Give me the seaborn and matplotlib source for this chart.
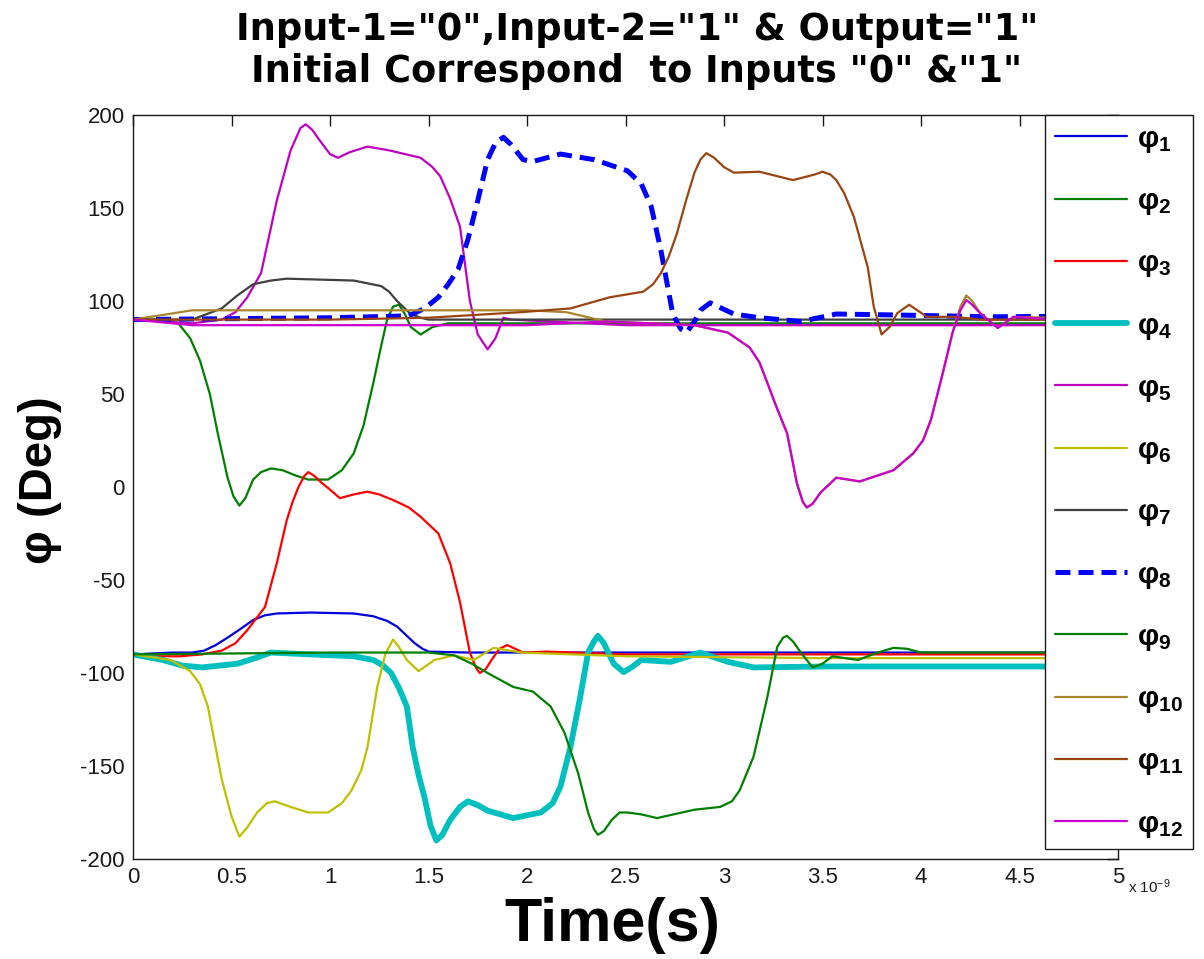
import numpy as np
import pandas as pd
import matplotlib
matplotlib.use("Agg")
import matplotlib.pyplot as plt
import seaborn as sns

# ------------------------
# Data (time in units of 1e-9 s)
# ------------------------
t1 = [0, 0.2, 0.30, 0.36, 0.42, 0.48, 0.55, 0.61, 0.67, 0.73, 0.9, 1.12, 1.22, 1.29, 1.34,
      1.39, 1.43, 1.47, 1.50, 1.7, 2.5, 3.5, 5]
phi1 = [-90, -89, -89, -88, -85, -81, -76, -71.5, -69, -68, -67.5, -68, -69.5, -72, -75,
        -80, -84, -87, -88.5, -89, -89, -89, -89]

t2 = [0, 0.15, 0.23, 0.29, 0.34, 0.39, 0.43, 0.48, 0.51, 0.54, 0.57, 0.61, 0.65, 0.70, 0.76,
      0.83, 0.89, 0.99, 1.06, 1.12, 1.17, 1.22, 1.26, 1.29, 1.32, 1.35, 1.38, 1.41, 1.46, 1.52,
      1.6, 2.0, 3.0, 4.0, 5]
phi2 = [90, 90, 88, 80, 68, 50, 29, 5, -5, -10, -6, 4, 8, 10, 9,
        6, 4, 4, 9, 18, 33, 56, 76, 90, 97, 98, 93, 86, 82, 86,
        88, 88, 88, 88, 88]

t3 = [0, 0.1, 0.24, 0.35, 0.45, 0.52, 0.58, 0.67, 0.73, 0.78, 0.81, 0.84, 0.87, 0.89, 0.92,
      0.96, 0.99, 1.05, 1.12, 1.19, 1.25, 1.32, 1.40, 1.46, 1.55, 1.61, 1.66, 1.71, 1.74, 1.76,
      1.79, 1.82, 1.86, 1.90, 1.94, 1.98, 2.10, 2.5, 3.0, 4.0, 5]
phi3 = [-90, -91, -91, -90, -88, -84, -77, -64.5, -41, -18, -8, 0, 6, 8, 6,
        2, -0.5, -6, -4, -2.5, -4, -7, -11, -16, -25, -41, -62, -89, -97, -100,
        -98, -93, -87, -85, -87, -89, -88.5, -90, -90, -90, -90]

t4 = [0, 0.15, 0.25, 0.35, 0.53, 0.62, 0.70, 0.9, 1.12, 1.22, 1.27, 1.31, 1.35, 1.39, 1.42,
      1.45, 1.48, 1.51, 1.54, 1.57, 1.61, 1.66, 1.70, 1.75, 1.80, 1.93, 2.07, 2.13, 2.17, 2.22,
      2.27, 2.31, 2.34, 2.36, 2.39, 2.44, 2.49, 2.53, 2.58, 2.73, 2.88, 3.02, 3.15, 3.52, 4.0, 5]
phi4 = [-90, -93, -96, -97, -95, -92, -89, -90, -91, -93, -96, -100, -108, -118, -140,
        -155, -167, -182, -190, -187, -179, -172, -169, -171, -174, -178, -175, -170, -161, -140,
        -113, -89, -83, -80, -84, -95, -99.5, -97, -93, -94, -89, -94, -97, -96.5, -96.5, -96.5]

t5 = [0, 0.3, 0.45, 0.52, 0.58, 0.65, 0.73, 0.80, 0.85, 0.877, 0.91, 0.95, 1.0, 1.04, 1.10,
      1.19, 1.30, 1.46, 1.52, 1.56, 1.61, 1.66, 1.71, 1.75, 1.80, 1.84, 1.88, 1.92, 2.5, 3.5, 5]
phi5 = [90, 88, 90, 94, 102, 115, 154, 181, 193, 195, 192, 186, 179, 177, 180,
        183, 181, 177, 172, 167, 155, 140, 100, 82, 74, 80, 91, 90, 87, 87, 87]

t6 = [0, 0.19, 0.29, 0.34, 0.38, 0.45, 0.50, 0.54, 0.58, 0.63, 0.68, 0.72, 0.80, 0.89, 0.99,
      1.06, 1.11, 1.16, 1.19, 1.24, 1.28, 1.32, 1.35, 1.39, 1.45, 1.53, 1.63, 1.73, 1.83, 1.97,
      2.5, 3.5, 5]
phi6 = [-90, -93, -99, -106, -118, -157, -177, -188, -183, -175, -170, -169, -172, -175, -175,
        -170, -163, -152, -140, -107.5, -90, -82, -86, -93, -99, -93, -90.5, -93, -86.5, -89,
        -91, -92, -92]

t7 = [0, 0.3, 0.45, 0.53, 0.61, 0.70, 0.78, 1.12, 1.26, 1.30, 1.34, 1.38, 1.41, 1.46, 1.5, 5]
phi7 = [90, 90, 96, 103, 109, 111, 112, 111, 108, 105, 100, 96, 93, 91, 90, 90]

t8 = [0, 1.0, 1.40, 1.48, 1.55, 1.60, 1.65, 1.70, 1.75, 1.80, 1.84, 1.88, 1.92, 1.98, 2.03,
      2.10, 2.17, 2.34, 2.51, 2.58, 2.63, 2.68, 2.71, 2.74, 2.78, 2.81, 2.85, 2.88, 2.93, 3.05,
      3.18, 3.39, 3.57, 3.86, 4.37, 5]
phi8 = [90, 91, 92, 96, 102, 109, 117, 133, 154, 176, 185, 188, 184, 176, 175,
        177, 179, 176, 170, 163, 151, 127, 110, 93, 85, 83, 89, 95, 99, 93,
        91, 89, 93, 92.5, 91.5, 92]

t9 = [0, 1.0, 1.5, 1.63, 1.72, 1.80, 1.93, 2.03, 2.12, 2.19, 2.26, 2.31, 2.34, 2.36, 2.39,
      2.43, 2.47, 2.51, 2.58, 2.66, 2.85, 2.98, 3.04, 3.08, 3.15, 3.22, 3.27, 3.30, 3.32, 3.35,
      3.39, 3.45, 3.50, 3.55, 3.68, 3.78, 3.86, 3.93, 4.00, 5]
phi9 = [-90, -89, -89, -90.5, -95, -100, -107.5, -110, -118, -132, -154, -175, -184, -187, -185,
        -179, -175, -175, -176, -178, -173.5, -172, -169, -163, -145, -113, -86, -81, -80, -83,
        -89, -97, -95, -91, -93, -89, -86.5, -87, -89, -89]

t10 = [0, 0.3, 1.0, 2.0, 2.2, 2.4, 2.85, 3.02, 3.13, 3.18, 3.22, 3.27, 3.32, 3.37, 3.40,
       3.42, 3.45, 3.49, 3.57, 3.69, 3.86, 3.96, 4.01, 4.05, 4.11, 4.16, 4.20, 4.23, 4.26, 4.30,
       4.39, 4.47, 5]
phi10 = [90, 95, 95, 95, 94, 89, 87, 83, 75, 67, 56, 42, 29, 2, -8,
         -11, -9, -3, 5, 3, 9, 18, 25, 36, 61, 83, 97, 103, 100, 93.5,
         85.5, 91.5, 90]

t11 = [0, 1.0, 1.5, 1.97, 2.22, 2.42, 2.59, 2.64, 2.68, 2.72, 2.76, 2.81, 2.85, 2.88, 2.91,
       2.95, 3.00, 3.05, 3.18, 3.35, 3.46, 3.50, 3.54, 3.57, 3.61, 3.66, 3.73, 3.76, 3.80, 3.84,
       3.88, 3.94, 4.03, 4.17, 4.3, 5]
phi11 = [90, 90, 91, 94, 96, 102, 105, 109, 115, 124, 136, 155, 169, 176, 179.5,
         177, 172, 169, 169.5, 165, 168, 169.5, 168, 165, 158, 145, 118, 97, 82, 86,
         93.5, 98, 91.5, 91.5, 90, 90]

t12 = [0, 0.3, 2.0, 2.2, 2.4, 2.85, 3.02, 3.13, 3.18, 3.22, 3.27, 3.32, 3.37, 3.40,
       3.42, 3.45, 3.49, 3.57, 3.69, 3.86, 3.96, 4.01, 4.05, 4.11, 4.16, 4.20, 4.23, 4.26, 4.30,
       4.39, 4.47, 5]
phi12 = [90, 87, 87, 88, 89, 87, 83, 75, 67, 56, 42, 29, 2, -8,
         -11, -9, -3, 5, 3, 9, 18, 25, 36, 61, 83, 95, 100.5, 98, 93.5,
         85.5, 91.5, 88]

labels = ["φ$_{%d}$" % i for i in range(1, 13)]
colors = ["#0000dd", "#007f00", "#ff0000", "#00bfbf", "#bf00bf", "#bfbf00",
          "#404040", "#0000ff", "#007f00", "#a8862e", "#994411", "#cc00cc"]
widths = [1.6, 1.6, 1.6, 4.2, 1.6, 1.6, 1.6, 3.6, 1.6, 1.6, 1.6, 1.6]

xticks = [0, 0.5, 1, 1.5, 2, 2.5, 3, 3.5, 4, 4.5, 5]
xtick_labels = ["0", "0.5", "1", "1.5", "2", "2.5", "3", "3.5", "4", "4.5", "5"]
yticks = [-200, -150, -100, -50, 0, 50, 100, 150, 200]

series = [(t1, phi1), (t2, phi2), (t3, phi3), (t4, phi4), (t5, phi5), (t6, phi6),
          (t7, phi7), (t8, phi8), (t9, phi9), (t10, phi10), (t11, phi11), (t12, phi12)]

# ------------------------
# Plot
# ------------------------
sns.set_style("white")
plt.rcParams['font.family'] = ['Liberation Sans Narrow', 'Liberation Sans', 'DejaVu Sans']
plt.rcParams['mathtext.default'] = 'regular'
plt.rcParams['axes.unicode_minus'] = False
plt.rcParams['text.color'] = 'black'

fig = plt.figure(figsize=(12.04, 9.59), dpi=100)
ax = fig.add_axes([133/1204, 100/959, 985/1204, 744/959])

for i, (t, v) in enumerate(series):
    df = pd.DataFrame({"t": t, "v": v})
    ls = (0, (3.0, 1.6)) if i == 7 else "-"
    sns.lineplot(data=df, x="t", y="v", ax=ax, color=colors[i], linewidth=widths[i],
                 linestyle=ls, label=labels[i], legend=False)

ax.set_xlim(0, 5)
ax.set_ylim(-200, 200)
ax.set_xticks(xticks)
ax.set_xticklabels(xtick_labels)
ax.set_yticks(yticks)
ax.tick_params(direction="in", length=8, width=1, top=True, right=True,
               labelsize=16, colors="#1a1a1a", pad=6)
for s in ax.spines.values():
    s.set_color("#1a1a1a")
    s.set_linewidth(1)
ax.set_xlabel("")
ax.set_ylabel("")

fig.text(637/1204, 1 - 30/959, 'Input-1="0",Input-2="1" & Output="1"', family="DejaVu Sans",
         fontsize=26.5, fontweight="bold", ha="center", va="center", color="black")
fig.text(637/1204, 1 - 72/959, 'Initial Correspond  to Inputs "0" &"1"', family="DejaVu Sans",
         fontsize=26.5, fontweight="bold", ha="center", va="center", color="black")
fig.text(612/1204, 1 - 926/959, "Time(s)", family="Liberation Sans", fontsize=44,
         fontweight="bold", ha="center", va="center", color="black")
fig.text(40/1204, 1 - 480/959, "φ (Deg)", family="Liberation Sans", fontsize=34,
         fontweight="bold", ha="center", va="center", rotation=90, color="black")
fig.text(1128/1204, 1 - 887/959, "x 10$^{-9}$", fontsize=11, color="#1a1a1a",
         ha="left", va="center")

handles, _ = ax.get_legend_handles_labels()
leg = ax.legend(handles, labels, loc="upper left", bbox_to_anchor=(1045/1204, 1 - 115/959),
                bbox_transform=fig.transFigure, borderaxespad=0, fancybox=False,
                frameon=True, edgecolor="#1a1a1a", framealpha=1, handlelength=2.4,
                handletextpad=0.35, labelspacing=1.08, borderpad=0.33,
                prop={"family": "Liberation Sans", "weight": "bold", "size": 21.5})
leg.get_frame().set_linewidth(1)
for txt in leg.get_texts():
    txt.set_color("black")

fig.savefig("out.png", dpi=100)
